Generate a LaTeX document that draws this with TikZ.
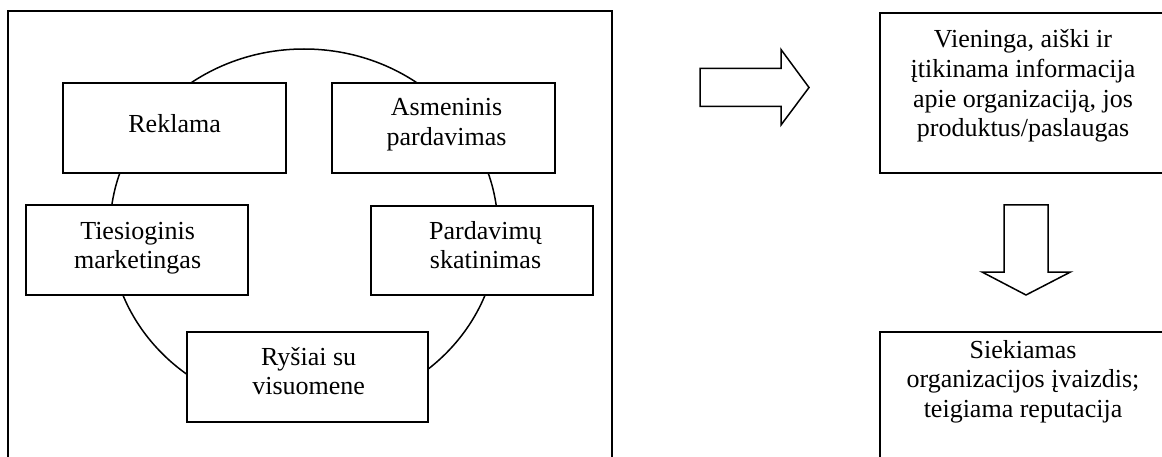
\documentclass[tikz,border=0pt]{standalone}
\usepackage{fontspec}
\setmainfont{Liberation Serif}
\begin{document}
\begin{tikzpicture}[x=1pt,y=-1pt,
  every node/.style={inner sep=0pt, outer sep=0pt},
  outerframe/.style={draw=black, line width=1.9pt},
  card/.style={rectangle, draw=black, fill=white, line width=1.6pt},
  txt/.style={align=center, anchor=base, font=\fontsize{26}{29.6}\selectfont},
  blockarrow/.style={draw=black, fill=white, line width=1.5pt, line join=miter}]

% page area
\useasboundingbox (0,0) rectangle (1162,457);
\fill[white] (0,0) rectangle (1162,457);
\clip (0,0) rectangle (1162,457);

% frame around the communication mix
\draw[outerframe] (8,11) rectangle (612,480);

% ring linking the five tools
\draw[line width=1.5pt] (304,230) ellipse [x radius=194, y radius=181];

% the five tools
\node[card, minimum width=223pt, minimum height=90pt] (reklama)   at (174.5,128) {};
\node[card, minimum width=223pt, minimum height=90pt] (asmeninis) at (443.5,128) {};
\node[card, minimum width=222pt, minimum height=90pt] (tiesiog)   at (137,250)   {};
\node[card, minimum width=222pt, minimum height=89pt] (skatin)    at (482,250.5) {};
\node[card, minimum width=241pt, minimum height=90pt] (rysiai)    at (307.5,377) {};

% text anchors sit on the baseline of the last line
\node[txt] (reklamaT)   at (174.6,133)   {Reklama};
\node[txt] (asmeninisT) at (446.5,145.6) {Asmeninis\\pardavimas};
\node[txt] (tiesiogT)   at (137.6,268.6) {Tiesioginis\\marketingas};
\node[txt] (skatinT)    at (485.5,268.6) {Pardavimų\\skatinimas};
\node[txt] (rysiaiT)    at (308.7,394.6) {Ryšiai su\\visuomene};

% block arrows
\draw[blockarrow] (700,68.5) -- (781,68.5) -- (781,49.5) -- (809,87.5)
  -- (781,125) -- (781,106.5) -- (700,106.5) -- cycle;
\draw[blockarrow] (1004,205) -- (1048,205) -- (1048,272) -- (1070.5,272)
  -- (1026,295) -- (982,272) -- (1004,272) -- cycle;

% outcome boxes
\node[card, minimum width=286pt, minimum height=160pt] (info)  at (1023,93)  {};
\node[card, minimum width=286pt, minimum height=160pt] (image) at (1023,412) {};

\node[txt] (infoT)  at (1023,136.8) {Vieninga, aiški ir\\įtikinama informacija\\apie organizaciją, jos\\produktus/paslaugas};
\node[txt] (imageT) at (1023,417.2) {Siekiamas\\organizacijos įvaizdis;\\teigiama reputacija};
\end{tikzpicture}
\end{document}
